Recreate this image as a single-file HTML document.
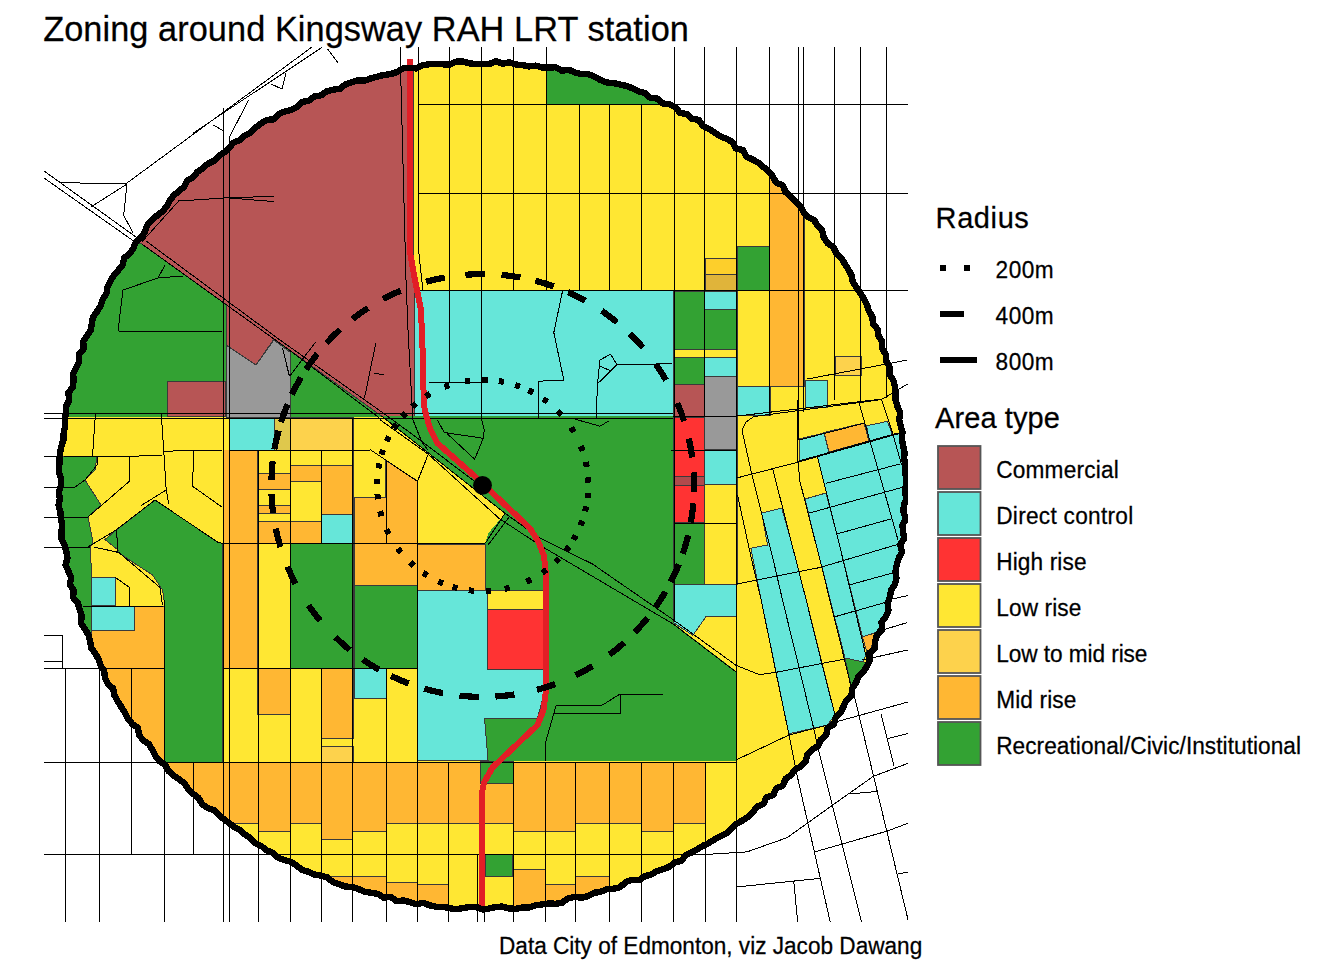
<!DOCTYPE html>
<html><head><meta charset="utf-8"><title>Zoning around Kingsway RAH LRT station</title>
<style>
html,body{margin:0;padding:0;background:#fff}
body{width:1344px;height:960px;position:relative;overflow:hidden;font-family:"Liberation Sans",sans-serif;color:#000}
.t{position:absolute;white-space:nowrap;line-height:1;transform-origin:0 84.65%;-webkit-text-stroke:0.25px #000}
</style></head><body>
<svg width="1344" height="960" viewBox="0 0 1344 960" style="position:absolute;left:0;top:0">
<defs><clipPath id="cc"><circle cx="482.7" cy="485.5" r="423.1"/></clipPath><clipPath id="pp"><rect x="44" y="47" width="864" height="875.5"/></clipPath></defs>
<g clip-path="url(#pp)"><g clip-path="url(#cc)" shape-rendering="crispEdges">
<polygon points="40.0,40.0 920.0,40.0 920.0,930.0 40.0,930.0" fill="#FFE733"/>
<polygon points="40.0,240.0 141.0,240.0 226.0,300.0 290.0,346.0 385.0,412.0 385.0,417.0 40.0,417.0" fill="#33A233"/>
<polygon points="60.0,40.0 413.0,40.0 413.0,252.0 414.5,275.0 414.5,416.0 381.5,416.0 274.0,338.9 256.0,365.0 226.0,345.0 226.0,304.4 141.0,243.4 60.0,243.4" fill="#B75555" stroke="#3a3a3a" stroke-width="1"/>
<polygon points="167.5,381.0 225.0,381.0 225.0,416.0 167.5,416.0" fill="#B75555" stroke="#3a3a3a" stroke-width="1"/>
<polygon points="226.0,345.0 256.0,365.0 274.0,340.0 290.0,352.0 290.0,417.0 226.0,417.0" fill="#999999" stroke="#3a3a3a" stroke-width="1"/>
<polygon points="546.0,50.0 674.0,50.0 674.0,104.0 546.0,104.0" fill="#33A233" stroke="#3a3a3a" stroke-width="1"/>
<polygon points="769.5,150.0 804.0,150.0 804.0,386.0 769.5,386.0" fill="#FFB733" stroke="#3a3a3a" stroke-width="1"/>
<polygon points="737.0,246.5 769.5,246.5 769.5,290.5 737.0,290.5" fill="#33A233" stroke="#3a3a3a" stroke-width="1"/>
<polygon points="705.0,258.0 737.0,258.0 737.0,274.0 705.0,274.0" fill="#FDCF2B" stroke="#3a3a3a" stroke-width="1"/>
<polygon points="705.0,274.0 737.0,274.0 737.0,290.5 705.0,290.5" fill="#E0B43A" stroke="#3a3a3a" stroke-width="1"/>
<polygon points="414.5,291.0 673.0,291.0 673.0,416.0 414.5,416.0" fill="#66E6D9"/>
<polygon points="673.0,291.0 704.5,291.0 704.5,349.5 673.0,349.5" fill="#33A233" stroke="#3a3a3a" stroke-width="1"/>
<polygon points="673.0,349.5 704.5,349.5 704.5,357.0 673.0,357.0" fill="#FFE733" stroke="#3a3a3a" stroke-width="1"/>
<polygon points="673.0,357.0 704.5,357.0 704.5,384.0 673.0,384.0" fill="#33A233" stroke="#3a3a3a" stroke-width="1"/>
<polygon points="673.0,384.0 704.5,384.0 704.5,417.0 673.0,417.0" fill="#B75555" stroke="#3a3a3a" stroke-width="1"/>
<polygon points="673.0,417.0 704.5,417.0 704.5,476.0 673.0,476.0" fill="#FF3333" stroke="#3a3a3a" stroke-width="1"/>
<polygon points="673.0,476.0 704.5,476.0 704.5,485.5 673.0,485.5" fill="#B04A4C" stroke="#3a3a3a" stroke-width="1"/>
<polygon points="673.0,485.5 704.5,485.5 704.5,522.5 673.0,522.5" fill="#FF3333" stroke="#3a3a3a" stroke-width="1"/>
<polygon points="673.0,522.5 704.5,522.5 704.5,584.5 673.0,584.5" fill="#33A233" stroke="#3a3a3a" stroke-width="1"/>
<polygon points="704.5,291.0 737.0,291.0 737.0,309.0 704.5,309.0" fill="#66E6D9" stroke="#3a3a3a" stroke-width="1"/>
<polygon points="704.5,309.0 737.0,309.0 737.0,349.5 704.5,349.5" fill="#33A233" stroke="#3a3a3a" stroke-width="1"/>
<polygon points="704.5,349.5 737.0,349.5 737.0,357.0 704.5,357.0" fill="#FFE733" stroke="#3a3a3a" stroke-width="1"/>
<polygon points="704.5,357.0 737.0,357.0 737.0,376.0 704.5,376.0" fill="#66E6D9" stroke="#3a3a3a" stroke-width="1"/>
<polygon points="704.5,376.0 737.0,376.0 737.0,449.5 704.5,449.5" fill="#999999" stroke="#3a3a3a" stroke-width="1"/>
<polygon points="704.5,449.5 737.0,449.5 737.0,484.5 704.5,484.5" fill="#66E6D9" stroke="#3a3a3a" stroke-width="1"/>
<polygon points="704.5,484.5 737.0,484.5 737.0,584.5 704.5,584.5" fill="#FFE733" stroke="#3a3a3a" stroke-width="1"/>
<polygon points="737.0,386.0 770.0,386.0 770.0,415.0 737.0,415.0" fill="#66E6D9" stroke="#3a3a3a" stroke-width="1"/>
<polygon points="805.0,380.0 827.5,380.0 827.5,407.0 805.0,407.0" fill="#66E6D9" stroke="#3a3a3a" stroke-width="1"/>
<polygon points="835.5,356.0 861.0,356.0 861.0,375.0 835.5,375.0" fill="#FDD24C" stroke="#3a3a3a" stroke-width="1"/>
<polygon points="381.0,416.0 673.0,416.0 673.0,623.0 736.0,671.0 736.0,761.0 513.0,761.0 513.0,783.0 480.0,783.0 480.0,761.0 488.0,760.0 484.5,718.0 537.5,718.0 543.0,697.5 543.0,590.5 485.0,590.5 485.3,543.3 488.3,533.3 496.7,523.3 505.0,513.3" fill="#33A233"/>
<polygon points="673.5,584.7 736.0,584.7 736.0,616.6 706.0,616.6 692.9,635.3 673.5,622.8" fill="#66E6D9" stroke="#3a3a3a" stroke-width="1"/>
<polygon points="229.0,417.0 274.5,417.0 274.5,450.0 229.0,450.0" fill="#66E6D9" stroke="#3a3a3a" stroke-width="1"/>
<polygon points="274.5,417.0 290.0,417.0 290.0,450.0 274.5,450.0" fill="#DFC84C" stroke="#3a3a3a" stroke-width="1"/>
<polygon points="290.0,417.0 353.0,417.0 353.0,450.0 290.0,450.0" fill="#FDD24C" stroke="#3a3a3a" stroke-width="1"/>
<polygon points="222.5,450.0 229.0,450.0 229.0,668.0 222.5,668.0" fill="#FFB733"/>
<polygon points="229.0,450.0 257.0,450.0 257.0,668.0 229.0,668.0" fill="#FFB733" stroke="#3a3a3a" stroke-width="1"/>
<polygon points="257.0,450.0 290.0,450.0 290.0,473.0 257.0,473.0" fill="#FFE733" stroke="#3a3a3a" stroke-width="1"/>
<polygon points="257.0,473.0 290.0,473.0 290.0,489.0 257.0,489.0" fill="#FFB733" stroke="#3a3a3a" stroke-width="1"/>
<polygon points="257.0,489.0 290.0,489.0 290.0,505.0 257.0,505.0" fill="#FFE733" stroke="#3a3a3a" stroke-width="1"/>
<polygon points="257.0,505.0 290.0,505.0 290.0,513.0 257.0,513.0" fill="#FFB733" stroke="#3a3a3a" stroke-width="1"/>
<polygon points="257.0,513.0 290.0,513.0 290.0,521.5 257.0,521.5" fill="#FFE733" stroke="#3a3a3a" stroke-width="1"/>
<polygon points="257.0,521.5 290.0,521.5 290.0,543.5 257.0,543.5" fill="#FFB733" stroke="#3a3a3a" stroke-width="1"/>
<polygon points="290.0,450.0 321.0,450.0 321.0,465.5 290.0,465.5" fill="#FFE733" stroke="#3a3a3a" stroke-width="1"/>
<polygon points="290.0,465.5 321.0,465.5 321.0,481.0 290.0,481.0" fill="#FFB733" stroke="#3a3a3a" stroke-width="1"/>
<polygon points="290.0,481.0 321.0,481.0 321.0,521.5 290.0,521.5" fill="#FFE733" stroke="#3a3a3a" stroke-width="1"/>
<polygon points="290.0,521.5 321.0,521.5 321.0,543.5 290.0,543.5" fill="#FFB733" stroke="#3a3a3a" stroke-width="1"/>
<polygon points="321.0,450.0 353.5,450.0 353.5,465.5 321.0,465.5" fill="#FFE733" stroke="#3a3a3a" stroke-width="1"/>
<polygon points="321.0,465.5 353.5,465.5 353.5,514.0 321.0,514.0" fill="#FFB733" stroke="#3a3a3a" stroke-width="1"/>
<polygon points="321.0,514.0 353.5,514.0 353.5,543.5 321.0,543.5" fill="#66E6D9" stroke="#3a3a3a" stroke-width="1"/>
<polygon points="290.0,543.5 353.5,543.5 353.5,668.0 290.0,668.0" fill="#33A233" stroke="#3a3a3a" stroke-width="1"/>
<polygon points="257.0,668.0 290.0,668.0 290.0,714.5 257.0,714.5" fill="#FFB733" stroke="#3a3a3a" stroke-width="1"/>
<polygon points="321.0,668.0 353.5,668.0 353.5,738.5 321.0,738.5" fill="#FFB733" stroke="#3a3a3a" stroke-width="1"/>
<polygon points="321.0,746.5 353.5,746.5 353.5,762.0 321.0,762.0" fill="#FDD24C" stroke="#3a3a3a" stroke-width="1"/>
<polygon points="354.0,497.5 385.0,497.5 385.0,460.0 417.5,481.0 417.5,585.5 354.0,585.5" fill="#FFB733" stroke="#3a3a3a" stroke-width="1"/>
<polygon points="354.0,585.5 417.5,585.5 417.5,668.0 354.0,668.0" fill="#33A233" stroke="#3a3a3a" stroke-width="1"/>
<polygon points="354.0,668.0 386.5,668.0 386.5,698.0 354.0,698.0" fill="#66E6D9" stroke="#3a3a3a" stroke-width="1"/>
<polygon points="417.5,544.5 485.0,544.5 485.0,590.5 417.5,590.5" fill="#FFB733" stroke="#3a3a3a" stroke-width="1"/>
<polygon points="417.5,590.5 487.0,590.5 487.0,669.5 543.0,669.5 543.0,697.5 537.5,718.0 484.5,718.0 488.0,760.0 417.5,760.0" fill="#66E6D9" stroke="#3a3a3a" stroke-width="1"/>
<polygon points="487.5,609.0 543.0,609.0 543.0,669.5 487.5,669.5" fill="#FF3333" stroke="#3a3a3a" stroke-width="1"/>
<polygon points="487.5,590.5 543.0,590.5 543.0,609.0 487.5,609.0" fill="#FFE733" stroke="#3a3a3a" stroke-width="1"/>
<polygon points="40.0,456.0 97.0,456.0 95.0,470.0 85.0,480.0 101.0,505.0 88.0,517.0 93.0,542.0 90.0,548.0 92.0,578.0 91.0,640.0 40.0,640.0" fill="#33A233" stroke="#3a3a3a" stroke-width="1"/>
<polygon points="155.0,500.0 217.5,542.0 222.5,543.5 222.5,762.0 164.0,762.0 164.0,600.0 162.5,590.0 152.5,575.0 118.0,552.5 116.5,530.0" fill="#33A233" stroke="#3a3a3a" stroke-width="1"/>
<polygon points="105.0,539.5 116.5,530.0 118.0,550.0" fill="#33A233" stroke="#3a3a3a" stroke-width="1"/>
<polygon points="91.0,606.0 164.0,606.0 164.0,762.0 91.0,762.0" fill="#FFB733" stroke="#3a3a3a" stroke-width="1"/>
<polygon points="40.0,640.0 91.0,640.0 91.0,762.0 40.0,762.0" fill="#FFB733"/>
<polygon points="91.0,577.5 115.5,577.5 115.5,605.5 91.0,605.5" fill="#66E6D9" stroke="#3a3a3a" stroke-width="1"/>
<polygon points="91.0,606.0 134.5,606.0 134.5,630.5 91.0,630.5" fill="#66E6D9" stroke="#3a3a3a" stroke-width="1"/>
<polygon points="60.0,762.0 131.0,762.0 131.0,930.0 60.0,930.0" fill="#FFB733" stroke="#3a3a3a" stroke-width="1"/>
<polygon points="131.0,762.0 164.0,762.0 164.0,930.0 131.0,930.0" fill="#FFB733" stroke="#3a3a3a" stroke-width="1"/>
<polygon points="164.0,762.0 193.0,762.0 193.0,930.0 164.0,930.0" fill="#FFB733" stroke="#3a3a3a" stroke-width="1"/>
<polygon points="193.0,762.0 223.0,762.0 223.0,930.0 193.0,930.0" fill="#FFB733" stroke="#3a3a3a" stroke-width="1"/>
<polygon points="223.0,762.0 229.5,762.0 229.5,930.0 223.0,930.0" fill="#FFB733" stroke="#3a3a3a" stroke-width="1"/>
<polygon points="229.5,762.0 258.0,762.0 258.0,823.0 229.5,823.0" fill="#FFB733" stroke="#3a3a3a" stroke-width="1"/>
<polygon points="258.0,762.0 290.5,762.0 290.5,831.0 258.0,831.0" fill="#FFB733" stroke="#3a3a3a" stroke-width="1"/>
<polygon points="290.5,762.0 321.0,762.0 321.0,823.0 290.5,823.0" fill="#FFB733" stroke="#3a3a3a" stroke-width="1"/>
<polygon points="321.0,762.0 352.5,762.0 352.5,839.0 321.0,839.0" fill="#FFB733" stroke="#3a3a3a" stroke-width="1"/>
<polygon points="352.5,762.0 386.0,762.0 386.0,831.0 352.5,831.0" fill="#FFB733" stroke="#3a3a3a" stroke-width="1"/>
<polygon points="386.0,762.0 417.5,762.0 417.5,823.0 386.0,823.0" fill="#FFB733" stroke="#3a3a3a" stroke-width="1"/>
<polygon points="417.5,762.0 448.0,762.0 448.0,823.0 417.5,823.0" fill="#FFB733" stroke="#3a3a3a" stroke-width="1"/>
<polygon points="448.0,762.0 481.0,762.0 481.0,823.0 448.0,823.0" fill="#FFB733" stroke="#3a3a3a" stroke-width="1"/>
<polygon points="481.0,762.0 513.0,762.0 513.0,823.0 481.0,823.0" fill="#FFB733" stroke="#3a3a3a" stroke-width="1"/>
<polygon points="513.0,762.0 545.0,762.0 545.0,831.0 513.0,831.0" fill="#FFB733" stroke="#3a3a3a" stroke-width="1"/>
<polygon points="545.0,762.0 575.5,762.0 575.5,831.0 545.0,831.0" fill="#FFB733" stroke="#3a3a3a" stroke-width="1"/>
<polygon points="575.5,762.0 609.0,762.0 609.0,823.0 575.5,823.0" fill="#FFB733" stroke="#3a3a3a" stroke-width="1"/>
<polygon points="609.0,762.0 641.0,762.0 641.0,823.0 609.0,823.0" fill="#FFB733" stroke="#3a3a3a" stroke-width="1"/>
<polygon points="641.0,762.0 673.0,762.0 673.0,831.0 641.0,831.0" fill="#FFB733" stroke="#3a3a3a" stroke-width="1"/>
<polygon points="673.0,762.0 705.0,762.0 705.0,823.0 673.0,823.0" fill="#FFB733" stroke="#3a3a3a" stroke-width="1"/>
<polygon points="480.5,761.0 513.0,761.0 513.0,783.0 480.5,783.0" fill="#33A233" stroke="#3a3a3a" stroke-width="1"/>
<polygon points="321.0,876.0 352.5,876.0 352.5,930.0 321.0,930.0" fill="#FFB733" stroke="#3a3a3a" stroke-width="1"/>
<polygon points="352.5,876.0 386.0,876.0 386.0,930.0 352.5,930.0" fill="#FFB733" stroke="#3a3a3a" stroke-width="1"/>
<polygon points="386.0,882.5 417.5,882.5 417.5,930.0 386.0,930.0" fill="#FFB733" stroke="#3a3a3a" stroke-width="1"/>
<polygon points="417.5,884.5 448.0,884.5 448.0,930.0 417.5,930.0" fill="#FFB733" stroke="#3a3a3a" stroke-width="1"/>
<polygon points="513.0,869.0 545.0,869.0 545.0,930.0 513.0,930.0" fill="#FFB733" stroke="#3a3a3a" stroke-width="1"/>
<polygon points="545.0,884.5 575.5,884.5 575.5,930.0 545.0,930.0" fill="#FFB733" stroke="#3a3a3a" stroke-width="1"/>
<polygon points="575.5,876.0 609.0,876.0 609.0,930.0 575.5,930.0" fill="#FFB733" stroke="#3a3a3a" stroke-width="1"/>
<polygon points="485.5,854.5 512.0,854.5 512.0,876.0 485.5,876.0" fill="#33A233" stroke="#3a3a3a" stroke-width="1"/>
<polygon points="799.0,439.0 824.0,433.0 829.0,452.5 799.0,461.0" fill="#66E6D9" stroke="#3a3a3a" stroke-width="1"/>
<polygon points="824.0,432.5 864.0,423.0 869.0,441.0 829.0,452.0" fill="#FFB733" stroke="#3a3a3a" stroke-width="1"/>
<polygon points="866.7,425.8 887.5,421.3 892.5,435.0 915.0,428.0 915.0,620.0 874.0,633.0 862.5,636.7 838.3,540.0 817.5,456.7 829.0,452.5 869.0,441.0" fill="#66E6D9" stroke="#3a3a3a" stroke-width="1"/>
<polygon points="805.0,499.0 826.0,493.0 838.3,540.0 865.8,655.0 863.0,662.0 845.0,658.0 815.0,540.0" fill="#66E6D9" stroke="#3a3a3a" stroke-width="1"/>
<polygon points="761.7,513.0 781.7,508.0 790.8,540.0 806.2,600.0 835.0,715.0 827.5,725.0 788.8,733.8 761.2,600.0 750.8,548.3 767.5,545.0" fill="#66E6D9" stroke="#3a3a3a" stroke-width="1"/>
<polygon points="845.0,658.0 866.0,662.5 851.0,686.0" fill="#33A233" stroke="#3a3a3a" stroke-width="1"/>
<polygon points="862.5,636.7 877.0,632.5 868.0,656.0 866.7,651.7" fill="#FFB733" stroke="#3a3a3a" stroke-width="1"/>
</g>
<g fill="none" stroke="#000" stroke-width="1" shape-rendering="crispEdges">
<polyline points="449.0,47.0 449.0,382.5"/>
<polyline points="481.0,47.0 481.0,416.0"/>
<polyline points="513.0,47.0 513.0,291.0"/>
<polyline points="546.0,47.0 546.0,291.0"/>
<polyline points="579.0,104.0 579.0,291.0"/>
<polyline points="609.5,104.0 609.5,291.0"/>
<polyline points="641.5,104.0 641.5,291.0"/>
<polyline points="674.0,47.0 674.0,622.0"/>
<polyline points="704.5,47.0 704.5,417.0"/>
<polyline points="736.5,47.0 736.5,922.0"/>
<polyline points="769.0,47.0 769.0,416.0"/>
<polyline points="798.0,47.0 798.0,440.0"/>
<polyline points="803.0,47.0 803.0,412.0"/>
<polyline points="834.0,47.0 834.0,400.0"/>
<polyline points="860.0,47.0 860.0,402.0"/>
<polyline points="886.0,47.0 886.0,398.0"/>
<polyline points="418.0,47.0 418.0,245.0 423.0,291.0"/>
<polyline points="400.0,47.0 406.0,280.0 408.0,330.0 412.1,406.2 412.7,419.3"/>
<polyline points="418.0,104.0 908.0,104.0"/>
<polyline points="418.0,193.0 908.0,193.0"/>
<polyline points="418.0,290.5 908.0,290.5"/>
<polyline points="44.0,413.0 673.0,413.0"/>
<polyline points="44.0,418.0 673.0,418.0"/>
<polyline points="673.0,416.0 737.0,416.0"/>
<polyline points="65.5,668.0 65.5,922.0"/>
<polyline points="99.0,668.0 99.0,922.0"/>
<polyline points="164.0,600.0 164.0,922.0"/>
<polyline points="223.0,108.0 223.0,922.0"/>
<polyline points="229.5,136.0 229.5,922.0"/>
<polyline points="258.0,450.0 258.0,922.0"/>
<polyline points="290.5,418.0 290.5,922.0"/>
<polyline points="321.0,668.0 321.0,922.0"/>
<polyline points="352.5,418.0 352.5,922.0"/>
<polyline points="386.0,668.0 386.0,922.0"/>
<polyline points="417.5,481.0 417.5,922.0"/>
<polyline points="448.0,762.0 448.0,922.0"/>
<polyline points="477.0,854.0 477.0,922.0"/>
<polyline points="484.5,854.0 484.5,922.0"/>
<polyline points="513.0,762.0 513.0,922.0"/>
<polyline points="545.0,762.0 545.0,922.0"/>
<polyline points="575.5,762.0 575.5,922.0"/>
<polyline points="609.0,762.0 609.0,922.0"/>
<polyline points="641.0,762.0 641.0,922.0"/>
<polyline points="673.0,762.0 673.0,922.0"/>
<polyline points="705.0,762.0 705.0,922.0"/>
<polyline points="131.0,668.0 131.0,854.5"/>
<polyline points="193.0,762.0 193.0,854.5"/>
<polyline points="321.0,450.0 321.0,543.5"/>
<polyline points="386.0,460.0 386.0,544.0"/>
<polyline points="44.0,668.0 164.0,668.0"/>
<polyline points="222.5,668.0 417.0,668.0"/>
<polyline points="44.0,762.0 736.0,762.0"/>
<polyline points="44.0,854.5 705.0,854.5"/>
<polyline points="229.0,450.0 370.0,450.0"/>
<polyline points="222.0,543.5 485.0,543.5"/>
<polyline points="381.5,416.0 505.0,513.3"/>
<polyline points="146.0,241.0 280.0,340.0 383.6,413.3 420.0,440.0 474.0,481.0"/>
<polyline points="142.5,244.5 290.0,350.5 378.8,417.5"/>
<polyline points="315.7,341.9 289.5,376.4"/>
<polyline points="282.4,347.9 289.5,376.4"/>
<polyline points="375.8,343.1 364.5,397.9"/>
<polyline points="374.0,373.5 384.2,374.6"/>
<polyline points="428.8,382.4 481.0,383.0"/>
<polyline points="380.0,419.7 428.3,454.2 500.0,519.2"/>
<polyline points="428.3,454.2 417.5,481.3"/>
<polyline points="370.0,449.5 417.5,481.3"/>
<polyline points="505.0,513.3 540.0,538.2 592.5,564.0 674.0,620.3 736.0,665.3 759.4,674.7 775.0,672.5 845.0,659.0"/>
<polyline points="500.0,519.0 540.0,545.3 673.2,624.0 736.0,672.0"/>
<polyline points="505.0,513.3 485.3,543.3"/>
<polyline points="510.0,516.0 488.0,545.0"/>
<polyline points="562.5,291.2 553.8,332.5 563.8,380.0 538.8,381.2 538.8,418.8"/>
<polyline points="600.0,360.0 610.5,354.2 617.0,364.5 597.5,383.8 596.2,417.5"/>
<polyline points="600.0,360.0 597.5,383.8"/>
<polyline points="617.0,364.5 672.5,363.8"/>
<polyline points="600.0,366.2 610.0,370.5"/>
<polyline points="575.0,419.2 600.0,426.2 609.5,420.5"/>
<polyline points="437.5,420.0 444.2,432.5 483.3,438.3 474.7,459.2 446.7,433.3"/>
<polyline points="481.7,400.0 481.7,420.0 484.2,430.0 483.3,438.3"/>
<polyline points="412.7,419.3 421.7,441.7 428.0,450.0"/>
<polyline points="671.0,450.0 737.0,450.0"/>
<polyline points="674.0,523.0 736.0,523.0"/>
<polyline points="95.5,413.0 92.5,456.2"/>
<polyline points="161.2,413.0 163.8,451.2 166.2,490.0 168.8,503.8"/>
<polyline points="163.8,451.2 222.5,450.0"/>
<polyline points="63.8,456.2 130.0,456.2 162.5,455.5"/>
<polyline points="130.0,456.2 129.5,481.2 88.0,517.0"/>
<polyline points="193.8,451.2 192.5,486.2 222.5,507.5"/>
<polyline points="166.2,490.0 141.2,505.5"/>
<polyline points="88.0,547.0 116.0,530.0 155.0,500.0 217.5,542.0 222.5,543.5"/>
<polyline points="93.8,547.0 118.8,552.5 160.0,587.5 162.5,605.0"/>
<polyline points="115.5,577.5 129.5,587.5 129.5,605.5"/>
<polyline points="82.5,606.2 162.5,606.2"/>
<polyline points="116.5,530.0 118.0,552.5"/>
<polyline points="62.0,487.0 75.0,487.0 85.0,480.0 97.0,465.0 97.0,456.0"/>
<polyline points="62.0,517.0 88.0,517.0"/>
<polyline points="62.0,547.0 90.0,547.0"/>
<polyline points="44.0,456.2 63.0,456.2"/>
<polyline points="44.0,487.0 63.0,487.0"/>
<polyline points="44.0,517.0 63.0,517.0"/>
<polyline points="44.0,547.0 63.0,547.0"/>
<polyline points="44.0,171.0 136.0,237.0"/>
<polyline points="44.0,178.0 135.0,242.0"/>
<polyline points="60.6,182.6 127.0,184.0"/>
<polyline points="127.0,184.0 90.4,207.3"/>
<polyline points="127.0,184.0 123.7,215.3 132.8,232.5"/>
<polyline points="127.0,183.0 311.6,47.3"/>
<polyline points="193.6,132.8 322.0,47.3"/>
<polyline points="230.0,136.0 248.6,100.0"/>
<polyline points="213.0,125.0 224.0,131.0"/>
<polyline points="271.0,84.0 282.0,89.0 286.0,73.0"/>
<polyline points="327.6,49.0 338.0,63.0"/>
<polyline points="142.0,241.7 178.7,201.0 224.5,198.0 273.8,196.3"/>
<polyline points="230.0,198.0 273.8,201.6"/>
<polyline points="123.0,290.0 158.0,278.0 183.0,276.0"/>
<polyline points="123.0,290.0 118.0,331.0 222.0,332.0"/>
<polyline points="158.0,278.0 165.0,265.0"/>
<polyline points="742.0,430.0 751.7,474.0 773.3,560.0 782.5,600.0 799.2,668.3 813.8,728.8 818.5,750.3"/>
<polyline points="772.5,468.0 790.8,540.0 806.2,600.0 821.7,663.3 835.0,715.0"/>
<polyline points="797.5,400.0 798.0,461.7 800.0,481.7 820.0,560.0 844.2,658.3 853.0,695.0"/>
<polyline points="817.5,456.7 838.3,540.0 865.8,655.0"/>
<polyline points="859.0,402.5 878.0,469.0 898.0,540.0"/>
<polyline points="881.7,400.0 892.5,433.0 901.7,465.0"/>
<polyline points="737.5,495.0 751.7,560.0 761.2,600.0 775.8,671.7 788.8,733.8 796.4,772.4"/>
<polyline points="742.0,430.0 746.0,422.0 754.0,416.5 796.7,410.8 860.0,402.5 878.0,400.0"/>
<polyline points="736.7,478.0 796.7,462.5 900.0,433.3"/>
<polyline points="825.8,483.3 900.0,464.0"/>
<polyline points="808.3,513.3 901.7,487.5"/>
<polyline points="836.7,534.0 890.8,519.0"/>
<polyline points="736.7,584.0 820.0,567.5 898.3,544.2"/>
<polyline points="849.0,585.0 892.5,573.0"/>
<polyline points="834.0,617.0 885.0,602.5"/>
<polyline points="807.5,379.0 907.5,360.0"/>
<polyline points="737.5,416.0 882.5,399.0 907.5,384.0"/>
<polyline points="799.0,440.0 865.0,423.0"/>
<polyline points="799.0,461.0 829.0,452.5 869.0,441.0 898.0,433.0"/>
<polyline points="852.5,689.0 853.6,693.0 908.0,919.6"/>
<polyline points="818.5,750.3 861.5,922.0"/>
<polyline points="796.4,772.4 830.2,922.0"/>
<polyline points="836.7,721.7 908.0,702.0"/>
<polyline points="881.0,713.9 894.0,766.0"/>
<polyline points="887.5,738.6 908.0,733.4"/>
<polyline points="705.0,854.5 746.9,851.9 787.2,837.6 832.8,805.0 873.2,776.4 908.0,763.3"/>
<polyline points="848.4,794.0 876.6,791.5"/>
<polyline points="814.6,851.9 887.5,831.0 908.0,823.2"/>
<polyline points="736.5,887.0 819.8,878.4"/>
<polyline points="793.8,881.8 797.7,922.0"/>
<polyline points="898.0,874.0 908.0,872.0"/>
<polyline points="862.5,660.0 907.5,650.0"/>
<polyline points="882.5,630.0 907.5,622.5"/>
<polyline points="892.5,599.0 908.0,595.5"/>
<polyline points="736.0,760.0 789.0,735.0 827.5,725.0"/>
<polyline points="545.5,761.0 545.5,742.5 556.0,706.0 602.5,705.0 620.0,694.0 662.5,694.0"/>
<polyline points="552.5,713.0 620.0,713.0 620.0,694.0"/>
<polyline points="44.0,635.5 62.5,635.5 62.5,669.0"/>
<polyline points="44.0,661.0 62.5,661.0"/>
</g>
<polyline points="410.0,59.0 410.0,252.0 414.0,275.0 421.0,310.0 423.0,360.0 423.7,400.0 424.7,410.0 430.0,428.3 437.5,443.3 473.3,475.0 530.0,528.3 538.3,541.7 544.0,556.0 546.0,575.0 546.0,690.0 543.5,710.0 537.5,725.0 492.5,767.5 484.0,782.5 481.5,795.0 481.5,906.0" fill="none" stroke="#E21E26" stroke-width="6" stroke-linejoin="round" shape-rendering="crispEdges"/>
<g fill="none" stroke="#000" shape-rendering="crispEdges">
<polygon points="905.8,485.5 904.9,492.1 906.4,498.8 903.8,505.4 903.5,512.0 906.0,518.8 902.4,525.2 903.2,531.9 904.0,538.7 900.1,544.9 902.1,551.9 898.7,558.1 896.8,564.5 895.5,571.0 896.4,578.0 894.9,584.5 891.1,590.3 890.0,596.9 887.6,603.1 888.5,610.3 885.9,616.5 881.6,622.1 882.2,629.3 877.1,634.5 875.3,641.0 875.0,648.0 869.6,652.9 869.7,660.2 866.9,666.3 863.4,672.0 858.3,676.9 855.9,683.1 852.2,688.6 851.5,695.9 846.2,700.5 843.5,706.6 840.6,712.6 835.7,717.4 833.9,724.2 827.6,727.9 826.2,735.1 821.0,739.5 818.2,745.7 812.3,749.5 807.5,754.2 805.6,761.3 801.2,766.3 795.0,769.7 791.1,775.1 785.5,778.9 782.9,785.7 776.1,788.3 773.4,795.0 766.4,797.3 763.5,804.0 757.0,806.6 752.9,812.1 748.2,816.9 742.5,820.4 736.7,823.8 731.9,828.4 726.8,832.9 721.0,836.1 715.0,839.1 709.4,842.7 703.4,845.6 697.7,849.0 691.9,852.3 685.8,855.0 681.4,860.7 674.8,862.5 669.5,866.8 663.2,869.1 656.8,871.1 651.1,874.5 644.6,876.4 639.0,880.3 631.7,879.9 625.5,882.2 620.2,887.2 613.7,888.7 606.9,889.1 600.7,891.8 594.1,892.8 588.1,896.1 581.7,897.7 574.7,896.9 568.2,898.3 562.3,902.6 555.7,903.8 548.9,903.4 542.3,904.4 535.7,905.3 529.3,907.5 522.6,907.5 516.0,908.8 509.3,908.6 502.6,906.6 495.9,906.9 489.3,908.5 482.7,909.4 476.1,907.0 469.5,906.9 462.8,908.1 456.0,909.3 449.4,908.1 442.9,906.7 436.2,906.8 429.7,905.3 423.3,902.9 416.4,904.2 410.0,902.3 403.6,900.3 396.6,901.3 390.7,896.9 383.7,897.7 377.9,893.9 371.3,892.8 364.7,891.8 358.5,889.1 352.2,887.1 345.4,886.5 339.1,884.3 332.9,882.0 327.5,877.5 321.1,875.7 314.3,874.5 308.3,871.8 301.9,869.7 296.6,865.5 291.0,861.8 284.3,860.1 278.1,857.6 273.1,853.0 266.9,850.4 261.6,846.3 255.6,843.4 250.8,838.5 245.3,834.8 240.3,830.4 234.5,827.1 229.1,823.2 223.9,819.2 218.7,815.1 214.0,810.3 207.4,807.8 201.9,804.0 198.5,797.8 193.1,793.9 188.3,789.3 184.6,783.6 179.4,779.4 173.7,775.7 168.7,771.3 165.3,765.3 159.8,761.3 155.5,756.2 152.5,750.0 149.0,744.3 143.2,740.4 139.2,735.1 137.8,727.9 132.1,723.8 127.8,718.6 124.8,712.6 121.3,707.0 117.8,701.3 114.5,695.5 113.2,688.6 108.1,683.9 105.0,677.9 104.1,671.0 100.6,665.3 98.5,659.0 95.1,653.2 91.1,647.7 90.1,641.0 88.3,634.5 84.6,628.8 81.0,623.0 81.7,615.8 79.7,609.5 77.8,603.1 73.1,597.5 73.7,590.5 69.8,584.6 71.3,577.5 68.4,571.3 65.6,565.1 67.4,558.0 66.3,551.5 64.6,545.0 61.4,538.7 61.4,532.0 62.3,525.2 60.9,518.7 60.4,512.1 58.6,505.5 59.8,498.8 58.9,492.2 61.1,485.5 61.2,478.9 59.0,472.2 59.3,465.5 59.6,458.9 60.1,452.2 61.5,445.7 63.6,439.2 63.7,432.6 65.3,426.1 64.8,419.3 65.9,412.8 66.3,406.1 69.2,399.9 68.3,392.9 72.7,387.1 73.7,380.5 73.1,373.5 76.4,367.5 79.1,361.3 78.9,354.3 83.8,348.9 83.2,341.7 86.9,335.9 90.7,330.3 91.8,323.6 93.0,316.9 97.1,311.4 100.6,305.7 102.7,299.4 106.4,293.8 107.5,286.8 110.6,280.9 113.9,275.1 118.5,270.1 122.6,264.8 124.2,258.0 129.7,253.6 133.4,248.1 135.9,241.8 141.1,237.3 145.0,231.9 147.2,225.3 151.9,220.5 156.7,215.8 162.1,211.7 166.5,206.7 169.8,200.7 173.7,195.3 178.9,191.1 184.1,186.9 187.2,180.6 193.1,177.1 197.4,172.0 202.9,168.1 207.9,163.8 214.0,160.7 218.7,155.9 224.3,152.4 229.1,147.8 233.5,142.6 239.9,140.0 244.9,135.6 250.8,132.5 255.6,127.6 260.8,123.5 266.6,120.0 273.8,119.3 278.5,114.0 284.7,111.6 291.3,109.9 297.2,106.9 302.2,101.9 308.9,100.6 314.3,96.5 321.1,95.3 326.7,91.4 333.1,89.7 339.9,88.8 345.4,84.5 351.7,82.3 358.1,80.3 365.1,80.6 371.3,78.2 377.7,76.5 384.1,74.9 390.7,74.1 397.1,72.0 403.1,68.4 409.8,67.9 416.6,68.4 422.9,65.1 429.5,64.2 436.2,64.2 442.9,64.3 449.6,64.5 456.0,61.7 462.7,61.4 469.4,63.4 476.1,64.0 482.7,63.9 489.3,64.0 496.0,61.1 502.6,63.7 509.3,62.4 515.8,64.5 522.4,65.1 529.0,66.4 535.7,65.7 542.2,67.4 548.9,67.6 555.7,67.2 561.8,70.7 568.8,69.7 575.0,72.6 581.5,74.1 588.3,74.2 594.6,76.6 600.5,80.0 606.7,82.5 613.4,83.1 620.0,84.5 626.5,86.0 632.8,88.3 638.7,91.4 645.2,93.2 650.4,97.9 657.4,98.5 662.5,103.4 669.5,104.2 675.5,107.2 680.0,112.9 686.9,114.0 691.9,118.7 698.8,120.0 703.0,126.0 709.0,128.9 714.6,132.5 720.1,136.2 726.4,138.7 732.3,142.0 735.8,148.4 742.9,150.0 746.3,156.5 752.4,159.5 758.5,162.6 763.5,167.0 768.5,171.5 772.9,176.5 776.1,182.7 782.9,185.3 785.5,192.1 790.5,196.4 795.0,201.3 800.1,205.7 803.3,211.7 807.5,216.8 814.1,220.0 817.6,225.7 822.2,230.6 823.8,237.7 827.6,243.1 833.3,247.2 836.3,253.2 841.2,258.0 844.7,263.6 848.2,269.4 851.5,275.1 852.8,282.1 856.6,287.5 860.4,293.1 864.0,298.7 866.9,304.7 869.0,311.1 872.4,316.9 872.9,323.9 877.5,329.2 878.5,335.9 882.2,341.7 882.2,348.7 885.9,354.5 886.3,361.3 889.8,367.2 889.4,374.3 893.3,380.1 894.9,386.5 895.6,393.2 895.5,400.0 897.5,406.4 900.3,412.6 899.1,419.5 900.8,426.0 902.5,432.5 901.8,439.2 903.1,445.8 904.5,452.3 904.2,459.0 905.3,465.6 904.8,472.2 906.5,478.8" stroke-width="6.4" stroke-linejoin="round"/>
<path d="M465.4 274.8A211.4 211.4 0 0 1 484.6 274.1M501.5 274.9A211.4 211.4 0 0 1 520.5 277.5M535.4 280.8A211.4 211.4 0 0 1 553.8 286.4M568.2 292.2A211.4 211.4 0 0 1 585.4 300.7M601.7 310.8A211.4 211.4 0 0 1 617.0 322.3M629.8 333.7A211.4 211.4 0 0 1 643.0 347.6M655.7 364.0A211.4 211.4 0 0 1 666.0 380.2M677.4 403.1A211.4 211.4 0 0 1 684.1 421.1M688.8 438.6A211.4 211.4 0 0 1 692.2 457.5M693.7 472.4A211.4 211.4 0 0 1 694.0 491.6M693.3 503.4A211.4 211.4 0 0 1 690.8 522.5M688.2 535.3A211.4 211.4 0 0 1 682.8 553.7M678.8 564.4A211.4 211.4 0 0 1 670.8 581.9M665.4 591.8A211.4 211.4 0 0 1 655.1 607.9M647.6 617.8A211.4 211.4 0 0 1 634.9 632.2M624.2 642.6A211.4 211.4 0 0 1 609.4 654.7M592.6 666.1A211.4 211.4 0 0 1 575.7 675.3M555.2 684.1A211.4 211.4 0 0 1 536.9 689.8M514.5 694.5A211.4 211.4 0 0 1 495.4 696.5M478.6 696.9A211.4 211.4 0 0 1 459.5 695.6M443.0 693.1A211.4 211.4 0 0 1 424.3 688.7M408.7 683.5A211.4 211.4 0 0 1 391.1 676.0M379.0 669.7A211.4 211.4 0 0 1 362.8 659.6M349.7 649.9A211.4 211.4 0 0 1 335.4 637.1M320.2 620.7A211.4 211.4 0 0 1 308.6 605.4M295.6 583.9A211.4 211.4 0 0 1 287.5 566.6M280.5 547.1A211.4 211.4 0 0 1 275.7 528.5M273.1 513.0A211.4 211.4 0 0 1 271.5 493.9M271.4 480.4A211.4 211.4 0 0 1 272.7 461.2M274.4 449.3A211.4 211.4 0 0 1 278.6 430.6M281.0 422.2A211.4 211.4 0 0 1 287.6 404.2M291.9 394.4A211.4 211.4 0 0 1 301.0 377.5M306.0 369.4A211.4 211.4 0 0 1 317.3 353.9M326.5 343.1A211.4 211.4 0 0 1 340.1 329.5M352.4 319.0A211.4 211.4 0 0 1 368.0 307.9M383.2 299.0A211.4 211.4 0 0 1 400.6 290.7M426.1 281.8A211.4 211.4 0 0 1 444.8 277.5" stroke-width="6.2"/>
<path d="M482.4 379.8L487.6 379.9M498.8 381.0L503.9 381.9M515.1 384.9L520.0 386.6M528.6 390.3L533.2 392.6M543.2 398.8L547.4 401.9M557.7 411.1L561.3 414.8M571.1 427.5L573.8 432.0M580.8 446.1L582.6 451.0M585.7 462.0L586.8 467.0M588.1 477.4L588.4 482.6M588.1 492.9L587.6 498.1M586.3 506.3L585.2 511.3M582.4 520.7L580.5 525.5M575.9 535.3L573.4 539.8M569.0 546.6L565.8 550.8M559.2 558.5L555.5 562.2M546.5 569.8L542.2 572.8M531.1 579.5L526.4 581.7M509.7 587.7L504.7 588.9M491.3 590.8L486.1 591.1M473.9 590.8L468.7 590.3M457.5 588.2L452.5 586.8M443.0 583.4L438.2 581.4M427.4 575.6L423.0 572.8M413.9 565.7L410.0 562.3M400.9 552.5L397.7 548.4M388.8 534.0L386.5 529.3M381.5 516.2L380.2 511.1M377.9 499.3L377.4 494.2M377.0 483.9L377.2 478.7M378.4 468.4L379.4 463.3M381.6 454.7L383.2 449.8M386.7 441.3L389.0 436.6M393.8 428.4L396.7 424.1M402.2 417.0L405.6 413.2M412.2 406.7L416.2 403.4M425.7 396.5L430.1 393.8M444.5 386.9L449.4 385.2M465.0 381.3L470.1 380.5" stroke-width="6"/>
</g>
<circle cx="482.5" cy="485.3" r="9.4" fill="#000"/>
</g>
<g shape-rendering="crispEdges"><rect x="940" y="265" width="6" height="6"/><rect x="964" y="265" width="6" height="6"/><rect x="940" y="311" width="24" height="6"/><rect x="940" y="357" width="37" height="6"/></g>
<rect x="938" y="446.0" width="42.5" height="43" fill="#B75555" stroke="#555" stroke-width="1.8"/>
<rect x="938" y="492.0" width="42.5" height="43" fill="#66E6D9" stroke="#555" stroke-width="1.8"/>
<rect x="938" y="538.0" width="42.5" height="43" fill="#FF3333" stroke="#555" stroke-width="1.8"/>
<rect x="938" y="584.0" width="42.5" height="43" fill="#FFE733" stroke="#555" stroke-width="1.8"/>
<rect x="938" y="630.0" width="42.5" height="43" fill="#FDD24C" stroke="#555" stroke-width="1.8"/>
<rect x="938" y="676.0" width="42.5" height="43" fill="#FFB733" stroke="#555" stroke-width="1.8"/>
<rect x="938" y="722.0" width="42.5" height="43" fill="#33A233" stroke="#555" stroke-width="1.8"/>
</svg>
<div class="t" style="left:43.2px;top:11.67px;font-size:34.30px;letter-spacing:0.07px;transform:scaleY(1.020)">Zoning around Kingsway RAH LRT station</div>
<div class="t" style="left:499.0px;top:936.27px;font-size:22.60px;letter-spacing:0.00px;transform:scaleY(1.080)">Data City of Edmonton, viz Jacob Dawang</div>
<div class="t" style="left:935.6px;top:204.05px;font-size:29.00px;letter-spacing:0.60px;transform:scaleY(1.020)">Radius</div>
<div class="t" style="left:935.0px;top:403.75px;font-size:29.00px;letter-spacing:0.10px;transform:scaleY(1.020)">Area type</div>
<div class="t" style="left:995.6px;top:258.63px;font-size:22.65px;letter-spacing:0.45px;transform:scaleY(1.080)">200m</div>
<div class="t" style="left:995.6px;top:304.63px;font-size:22.65px;letter-spacing:0.45px;transform:scaleY(1.080)">400m</div>
<div class="t" style="left:995.6px;top:350.63px;font-size:22.65px;letter-spacing:0.45px;transform:scaleY(1.080)">800m</div>
<div class="t" style="left:996.2px;top:459.33px;font-size:22.65px;letter-spacing:0.20px;transform:scaleY(1.080)">Commercial</div>
<div class="t" style="left:996.2px;top:505.33px;font-size:22.65px;letter-spacing:0.28px;transform:scaleY(1.080)">Direct control</div>
<div class="t" style="left:996.2px;top:551.33px;font-size:22.65px;letter-spacing:0.13px;transform:scaleY(1.080)">High rise</div>
<div class="t" style="left:996.2px;top:597.33px;font-size:22.65px;letter-spacing:0.13px;transform:scaleY(1.080)">Low rise</div>
<div class="t" style="left:996.2px;top:643.33px;font-size:22.65px;letter-spacing:-0.07px;transform:scaleY(1.080)">Low to mid rise</div>
<div class="t" style="left:996.2px;top:689.33px;font-size:22.65px;letter-spacing:0.13px;transform:scaleY(1.080)">Mid rise</div>
<div class="t" style="left:996.2px;top:735.33px;font-size:22.65px;letter-spacing:0.05px;transform:scaleY(1.080)">Recreational/Civic/Institutional</div>
</body></html>
